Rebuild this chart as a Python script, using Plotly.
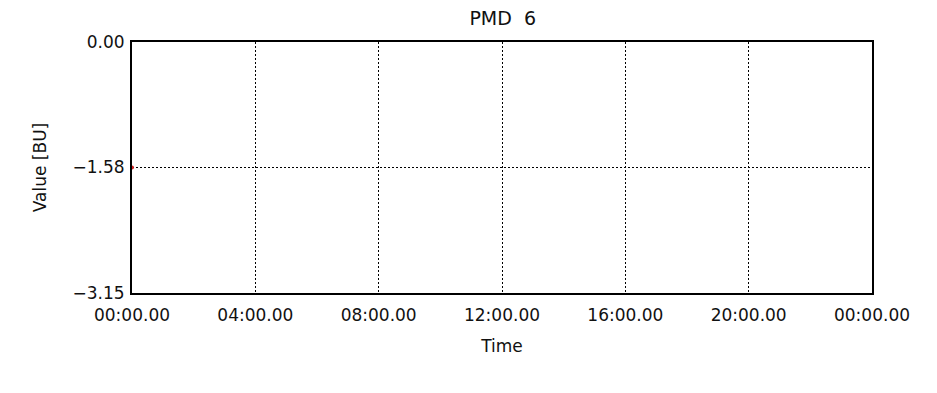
import plotly.graph_objects as go

# Data
times = [0.0]
values = [-1.575]
x_tickvals = [0, 4, 8, 12, 16, 20, 24]
x_ticktext = ["00:00.00", "04:00.00", "08:00.00", "12:00.00", "16:00.00", "20:00.00", "00:00.00"]
y_tickvals = [0.0, -1.575, -3.15]
y_ticktext = ["0.00", "\u22121.58", "\u22123.15"]

fig = go.Figure()
fig.add_trace(go.Scatter(x=times, y=values, mode="markers",
                         marker=dict(color="#d42020", size=4),
                         cliponaxis=False, showlegend=False))

font = dict(family="DejaVu Sans", size=17, color="#111111")
fig.update_layout(
    width=937, height=393,
    margin=dict(l=124, r=73, t=34, b=108),
    paper_bgcolor="white", plot_bgcolor="white",
    font=font,
    title=dict(text="PMD  6", x=0.528, xanchor="center", y=0.99, yanchor="top",
               pad=dict(t=0, b=0),
               font=dict(family="DejaVu Sans", size=19, color="#111111")),
    xaxis=dict(range=[0, 24], tickvals=x_tickvals, ticktext=x_ticktext,
               showgrid=True, gridcolor="black", griddash="2px,2px", gridwidth=1,
               showline=True, linecolor="black", linewidth=2, mirror=True,
               zeroline=False, ticks="", ticklen=0, tickfont=font,
               ticklabelstandoff=6,
               title=dict(text="Time", font=font, standoff=16)),
    yaxis=dict(range=[-3.15, 0], tickvals=y_tickvals, ticktext=y_ticktext,
               showgrid=True, gridcolor="black", griddash="2px,2px", gridwidth=1,
               showline=True, linecolor="black", linewidth=2, mirror=True,
               zeroline=False, ticks="", ticklen=0, tickfont=font,
               ticklabelstandoff=2,
               title=dict(text="Value [BU]", font=font, standoff=22)),
)
fig.write_html("out.html")
